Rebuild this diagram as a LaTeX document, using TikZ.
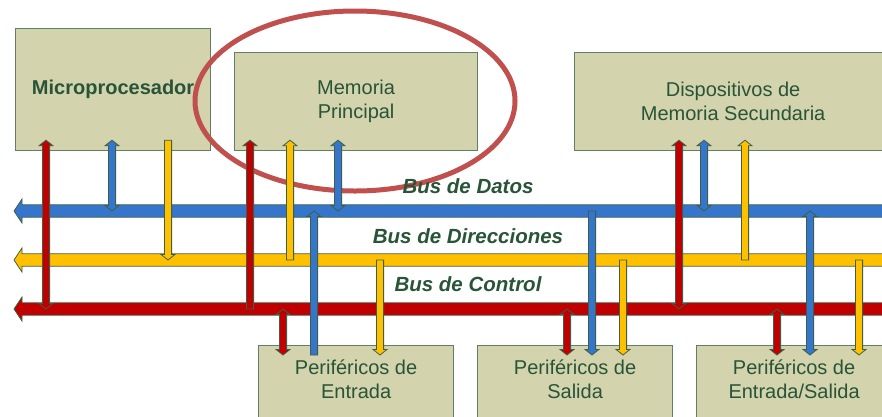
\documentclass[tikz,border=0pt]{standalone}
\usepackage{fontspec}
\setmainfont{Liberation Sans}
\usetikzlibrary{calc,positioning}

\definecolor{boxfill}{RGB}{211,211,173}
\definecolor{boxline}{RGB}{94,128,100}
\definecolor{txtgreen}{RGB}{40,84,56}
\definecolor{busblue}{RGB}{53,117,203}
\definecolor{busred}{RGB}{192,0,0}
\definecolor{busyellow}{RGB}{255,192,0}
\definecolor{edge}{RGB}{62,96,72}
\definecolor{ring}{RGB}{192,80,77}

\tikzset{
  shaftw/.store in=\shaftw, headw/.store in=\headw, headl/.store in=\headl,
  shaftw=3.6pt, headw=6.9pt, headl=5.5pt,
  twoway/.style={to path={let \p1=(\tikztostart), \p2=(\tikztotarget), \n1={atan2(\y2-\y1,\x2-\x1)} in
    (\p1) -- ($(\p1)+(\n1:\headl)+(\n1+90:\headw)$) -- ($(\p1)+(\n1:\headl)+(\n1+90:\shaftw)$)
    -- ($(\p2)-(\n1:\headl)+(\n1+90:\shaftw)$) -- ($(\p2)-(\n1:\headl)+(\n1+90:\headw)$)
    -- (\p2) -- ($(\p2)-(\n1:\headl)-(\n1+90:\headw)$) -- ($(\p2)-(\n1:\headl)-(\n1+90:\shaftw)$)
    -- ($(\p1)+(\n1:\headl)-(\n1+90:\shaftw)$) -- ($(\p1)+(\n1:\headl)-(\n1+90:\headw)$) -- cycle}},
  oneway/.style={to path={let \p1=(\tikztostart), \p2=(\tikztotarget), \n1={atan2(\y2-\y1,\x2-\x1)} in
    ($(\p1)+(\n1+90:\shaftw)$) -- ($(\p2)-(\n1:\headl)+(\n1+90:\shaftw)$) -- ($(\p2)-(\n1:\headl)+(\n1+90:\headw)$)
    -- (\p2) -- ($(\p2)-(\n1:\headl)-(\n1+90:\headw)$) -- ($(\p2)-(\n1:\headl)-(\n1+90:\shaftw)$)
    -- ($(\p1)-(\n1+90:\shaftw)$) -- cycle}},
  box/.style={draw=boxline, fill=boxfill, line width=1.2pt, inner sep=0pt, text=txtgreen,
    font=\fontsize{20}{24}\selectfont, align=center, anchor=north west},
  boxtext/.style={inner sep=0pt, text=txtgreen, font=\fontsize{20}{24}\selectfont, align=center},
  buslabel/.style={text=txtgreen, font=\fontsize{20.5}{24}\selectfont\bfseries\itshape, anchor=base},
  wire/.style={draw=edge, line width=0.8pt, fill=#1},
  bus/.style={wire=#1, shaftw=6.2pt, headw=12pt, headl=8pt},
  topport/.style={yshift=11pt},
  botport/.style={yshift=-10pt}
}

\begin{document}
\begin{tikzpicture}[x=1pt,y=-1pt]
\useasboundingbox (0,0) rectangle (882,416);
\clip (0,0) rectangle (882,416);

% unidades
\node[box, minimum width=195pt, minimum height=122pt] (micro) at (15,28) {\bfseries Microprocesador};
\node[box, minimum width=243pt, minimum height=98pt] (memoria) at (234,52) {Memoria\\Principal};
\node[box, minimum width=317pt, minimum height=98pt] (disp) at (574,52) {Dispositivos de\\Memoria Secundaria};
\node[box, minimum width=195pt, minimum height=90pt] (entrada) at (258,345) {};
\node[box, minimum width=195pt, minimum height=90pt] (salida) at (477,345) {};
\node[box, minimum width=195pt, minimum height=90pt] (es) at (696,345) {};
\node[boxtext, below=15pt of entrada.north] (tentrada) {Periféricos de\\Entrada};
\node[boxtext, below=15pt of salida.north] (tsalida) {Periféricos de\\Salida};
\node[boxtext, below=15pt of es.north] (tes) {Periféricos de\\Entrada/Salida};

\draw[ring, line width=5pt] (355,101) ellipse [x radius=160pt, y radius=90pt];

% buses
\coordinate (datos) at (14,211);
\coordinate (direcc) at (14,260);
\coordinate (control) at (14,309);
\draw[bus=busblue] (datos -| 900,0) to[oneway] (datos);
\draw[bus=busyellow] (direcc -| 900,0) to[oneway] (direcc);
\draw[bus=busred] (control -| 900,0) to[oneway] (control);
\node[buslabel] (ldatos) at (468,193) {Bus de Datos};
\node[buslabel] (ldirecc) at (468,243) {Bus de Direcciones};
\node[buslabel] (lcontrol) at (468,291) {Bus de Control};

% microprocesador
\draw[wire=busred] ([topport]micro.south -| 46,0) to[twoway] (control -| 46,0);
\draw[wire=busblue] ([topport]micro.south -| 112,0) to[twoway] (datos -| 112,0);
\draw[wire=busyellow] ([topport]micro.south -| 168,0) to[oneway] (direcc -| 168,0);
% memoria principal
\draw[wire=busred] (control -| 250,0) to[oneway] ([topport]memoria.south -| 250,0);
\draw[wire=busyellow] (direcc -| 290,0) to[oneway] ([topport]memoria.south -| 290,0);
\draw[wire=busblue] ([topport]memoria.south -| 338,0) to[twoway] (datos -| 338,0);
% memoria secundaria
\draw[wire=busred] ([topport]disp.south -| 679,0) to[twoway] (control -| 679,0);
\draw[wire=busblue] ([topport]disp.south -| 704,0) to[twoway] (datos -| 704,0);
\draw[wire=busyellow] (direcc -| 745,0) to[oneway] ([topport]disp.south -| 745,0);
% perifericos de entrada
\draw[wire=busred] (control -| 283,0) to[twoway] ([botport]entrada.north -| 283,0);
\draw[wire=busblue] ([botport]entrada.north -| 314,0) to[oneway] (datos -| 314,0);
\draw[wire=busyellow] (direcc -| 380,0) to[oneway] ([botport]entrada.north -| 380,0);
% perifericos de salida
\draw[wire=busred] (control -| 567,0) to[twoway] ([botport]salida.north -| 567,0);
\draw[wire=busblue] (datos -| 592,0) to[oneway] ([botport]salida.north -| 592,0);
\draw[wire=busyellow] (direcc -| 623,0) to[oneway] ([botport]salida.north -| 623,0);
% perifericos de entrada/salida
\draw[wire=busred] (control -| 777,0) to[twoway] ([botport]es.north -| 777,0);
\draw[wire=busblue] (datos -| 810,0) to[twoway] ([botport]es.north -| 810,0);
\draw[wire=busyellow] (direcc -| 859,0) to[oneway] ([botport]es.north -| 859,0);
\end{tikzpicture}
\end{document}
